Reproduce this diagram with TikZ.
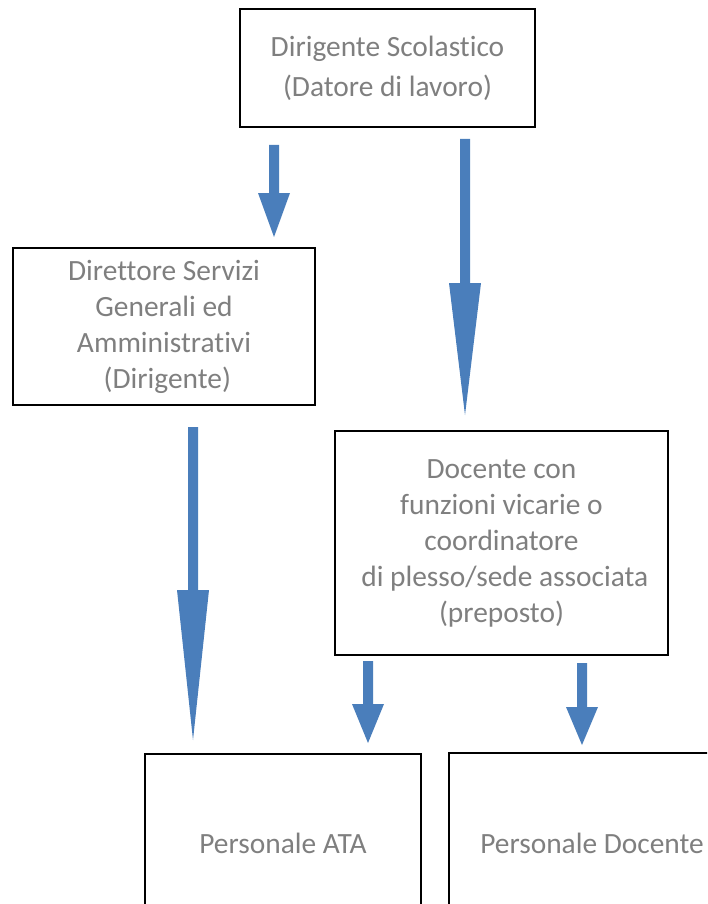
\documentclass[tikz,border=0pt]{standalone}
\usepackage{fontspec}
\setmainfont{Carlito}[Ligatures={NoCommon}]
\usetikzlibrary{calc}
\definecolor{arrowblue}{HTML}{4A7EBB}
\definecolor{txtgray}{HTML}{7F7F7F}
\tikzset{
  box/.style={draw=black, line width=1.5pt, rectangle, inner sep=0pt, text=txtgray,
    align=center, font=\fontsize{29.4}{36}\selectfont},
  blockarrow/.style={fill=arrowblue, draw=none},
}
\newcommand\blockarr[3]{% start coord, end coord, head length
  \fill[blockarrow] let \p1=(#1), \p2=(#2) in
    (\x1-5pt,\y1) -- (\x1+5pt,\y1) -- (\x1+5pt,\y2+#3) -- (\x1+16pt,\y2+#3)
    -- (\x2,\y2) -- (\x1-16pt,\y2+#3) -- (\x1-5pt,\y2+#3) -- cycle;}
\begin{document}
\begin{tikzpicture}[x=1pt,y=-1pt]
\path[use as bounding box] (0,0) rectangle (707,904);
\clip (0,0) rectangle (707,904);

\node[box, minimum width=295pt, minimum height=118pt, font=\fontsize{29.4}{40}\selectfont]
  (ds) at (387.5,68) {Dirigente Scolastico\\(Datore di lavoro)};
\node[box, minimum width=302pt, minimum height=157pt]
  (dsga) at (164,326.5) {Direttore Servizi\\Generali ed\\Amministrativi\\~(Dirigente)};
\node[box, minimum width=333pt, minimum height=224pt]
  (doc) at (501.5,543) {Docente con\\funzioni vicarie o\\coordinatore\\~di plesso/sede associata\\(preposto)};
\node[box, minimum width=276pt, minimum height=178pt]
  (ata) at (283,843) {Personale ATA};
\node[box, minimum width=286pt, minimum height=180pt]
  (pd) at (592,843) {Personale Docente};

\coordinate (a1s) at (274,145); \coordinate (a1e) at (274,237);
\coordinate (a2s) at (465,139); \coordinate (a2e) at (465,415);
\coordinate (a3s) at (193,427); \coordinate (a3e) at (193,740);
\coordinate (a4s) at (368,661); \coordinate (a4e) at (368,743);
\coordinate (a5s) at (582,663); \coordinate (a5e) at (582,745);

\blockarr{a1s}{a1e}{44pt}
\blockarr{a2s}{a2e}{132pt}
\blockarr{a3s}{a3e}{150pt}
\blockarr{a4s}{a4e}{39pt}
\blockarr{a5s}{a5e}{38pt}
\end{tikzpicture}
\end{document}
